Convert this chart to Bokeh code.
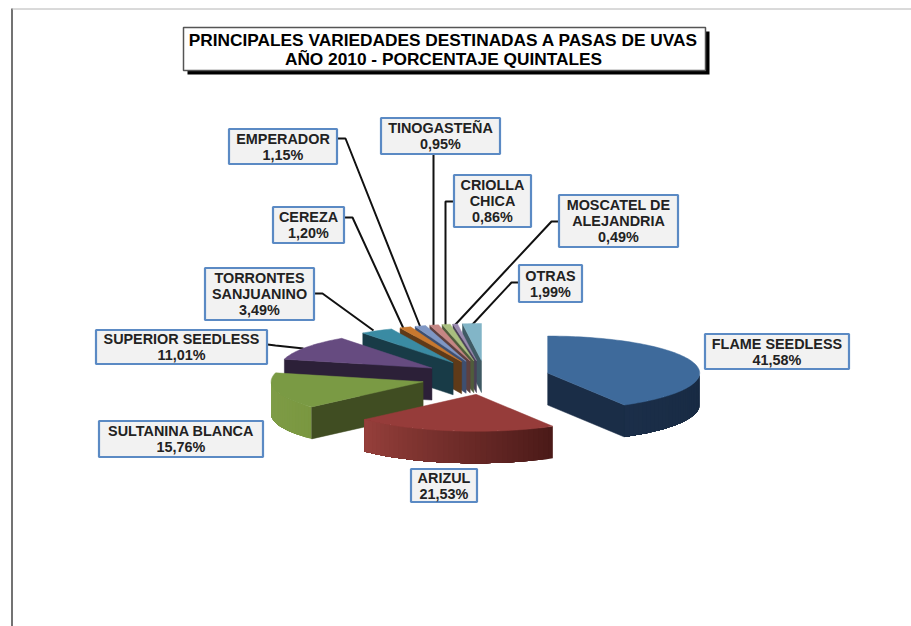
import math
from bokeh.plotting import figure
from bokeh.core.properties import value
from bokeh.embed import file_html
from bokeh.resources import INLINE

TITLE_LINES = ["PRINCIPALES VARIEDADES DESTINADAS A PASAS DE UVAS", "AÑO 2010 - PORCENTAJE QUINTALES"]
names = [["FLAME SEEDLESS"], ["ARIZUL"], ["SULTANINA BLANCA"], ["SUPERIOR SEEDLESS"], ["TORRONTES", "SANJUANINO"],
         ["CEREZA"], ["EMPERADOR"], ["TINOGASTEÑA"], ["CRIOLLA", "CHICA"], ["MOSCATEL DE", "ALEJANDRIA"], ["OTRAS"]]
values = [41.58, 21.53, 15.76, 11.01, 3.49, 1.20, 1.15, 0.95, 0.86, 0.49, 1.99]
top_colors = ["#3e6a9b", "#963c3a", "#7a9a44", "#664b80", "#3a8ba3", "#c8782f", "#7f97c4", "#c58684", "#a9bf7f", "#9a8ab0", "#82b5c7"]
face_colors = ["#1a2d47", "#4a1a18", "#404d22", "#2c2038", "#183b47", "#5f3a18", "#3e4f70", "#5e4040", "#505c3c", "#4a4158", "#3f5a64"]
rim_start = ["#172a42", "#4a1a18", "#7a9740", "#2c2038", "#183b47", "#5f3a18", "#3e4f70", "#5e4040", "#505c3c", "#4a4158", "#3f5a64"]
rim_end = ["#1b2e49", "#963f3b", "#809e49", "#2c2038", "#183b47", "#5f3a18", "#3e4f70", "#5e4040", "#505c3c", "#4a4158", "#3f5a64"]
# label boxes: left, top, right, bottom (page layout)
boxes = [(704, 333, 849, 369), (410, 468, 477, 502), (98, 420, 263, 457), (95, 329, 267, 364), (204, 267, 314, 320),
         (272, 206, 344, 243), (228, 128, 337, 164), (380, 117, 500, 154), (453, 174, 531, 227), (558, 194, 678, 247), (518, 264, 582, 302)]
leaders = {3: [(267, 344), (275, 345), (303, 348)], 4: [(314, 293), (322, 293), (373, 330)], 5: [(344, 217), (352, 217), (403, 328)],
           6: [(337, 138), (345, 138), (420, 327)], 7: [(433, 154), (433, 326)], 8: [(453, 201), (445, 201), (445, 325)],
           9: [(558, 221), (551, 221), (454, 325)], 10: [(518, 282), (511, 282), (471, 325)]}

W, H = 911, 626
CX, CY, RX, RY, DEPTH, EX, EY = 485, 377, 152, 37, 32, 64.4, 17

p = figure(width=W, height=H, x_range=(0, W), y_range=(H, 0), output_backend="svg", toolbar_location=None, min_border=0)
p.axis.visible = False
p.grid.visible = False
p.outline_line_color = None
p.background_fill_color = "white"

# page frame
p.line([11.5, 11.5], [8, H], line_color="#444444", line_width=1.5)
p.line([11.5, W], [8.5, 8.5], line_color="#b4b4b4", line_width=1)

def mix(a, b, t):
    ca = [int(a[i:i + 2], 16) for i in (1, 3, 5)]
    cb = [int(b[i:i + 2], 16) for i in (1, 3, 5)]
    return "#%02x%02x%02x" % tuple(round(x + (y - x) * t) for x, y in zip(ca, cb))

total = sum(values)
edges = [0.0]
for v in values:
    edges.append(edges[-1] + v / total * 360)

def slice_geom(i):
    a0, a1 = edges[i], edges[i + 1]
    mid = math.radians((a0 + a1) / 2)
    ax, ay = CX + EX * math.sin(mid), CY - EY * math.cos(mid)
    return a0, a1, ax, ay

def rim_pt(ax, ay, deg):
    r = math.radians(deg)
    return ax + RX * math.sin(r), ay - RY * math.cos(r)

def draw_slice(i):
    a0, a1, ax, ay = slice_geom(i)
    # rim strips (only the part that faces the viewer); each covers the rest of the rim, so no seams show
    r0, r1 = max(a0, 90), min(a1, 270)
    if r1 > r0:
        n = max(1, int((r1 - r0) / 2))
        for k in range(n):
            d0 = r0 + (r1 - r0) * k / n
            ds = [d0 + (r1 - d0) * j / (n - k) for j in range(n - k + 1)]
            pts = [rim_pt(ax, ay, d) for d in ds]
            xs = [q[0] for q in pts]
            ys = [q[1] for q in pts]
            c = mix(rim_start[i], rim_end[i], (k + .5) / n)
            p.patch(xs + xs[::-1], ys + [y + DEPTH for y in ys[::-1]], fill_color=c, line_color=None)
    # cut faces
    if a0 >= 180:
        sx, sy = rim_pt(ax, ay, a0)
        p.patch([ax, sx, sx, ax], [ay, sy, sy + DEPTH, ay + DEPTH], fill_color=face_colors[i], line_color=face_colors[i], line_width=0.5)
    if a1 <= 180:
        sx, sy = rim_pt(ax, ay, a1)
        p.patch([ax, sx, sx, ax], [ay, sy, sy + DEPTH, ay + DEPTH], fill_color=face_colors[i], line_color=face_colors[i], line_width=0.5)
    # top
    n = max(2, int((a1 - a0) / 1.5))
    pts = [rim_pt(ax, ay, a0 + (a1 - a0) * k / n) for k in range(n + 1)]
    p.patch([ax] + [q[0] for q in pts], [ay] + [q[1] for q in pts], fill_color=top_colors[i], line_color=top_colors[i], line_width=0.5)

# leader lines first: they stop at the slices
for i, pts in leaders.items():
    p.line([q[0] for q in pts], [q[1] for q in pts], line_color="#111111", line_width=2)

draw_slice(0)
for i in range(len(values) - 1, 0, -1):
    draw_slice(i)

font = value("Liberation Sans")
LH = 16
for i, (x0, y0, x1, y1) in enumerate(boxes):
    p.quad(left=[x0 + .5], right=[x1 - .5], top=[y0 + .5], bottom=[y1 - .5], fill_color="#f2f2f2", line_color="#5b8ac4", line_width=2.2)
    lines = names[i] + [f"{values[i]:.2f}".replace(".", ",") + "%"]
    cy = (y0 + y1) / 2
    for k, t in enumerate(lines):
        p.text([(x0 + x1) / 2], [cy + (k - (len(lines) - 1) / 2) * LH], text=[t], text_font=font, text_font_style="bold",
               text_font_size="14.4px", text_align="center", text_baseline="middle", text_color="#222222")

# title
p.quad(left=[187], right=[709], top=[31], bottom=[74], fill_color="#000000", line_color=None)
p.quad(left=[183], right=[705], top=[27], bottom=[70], fill_color="#ffffff", line_color="#555555", line_width=1.5)
for t, y in zip(TITLE_LINES, [39, 58]):
    p.text([443], [y], text=[t], text_font=font, text_font_style="bold", text_font_size="17.3px",
           text_align="center", text_baseline="middle", text_color="#000000")

open("out.html", "w").write(file_html(p, INLINE))
